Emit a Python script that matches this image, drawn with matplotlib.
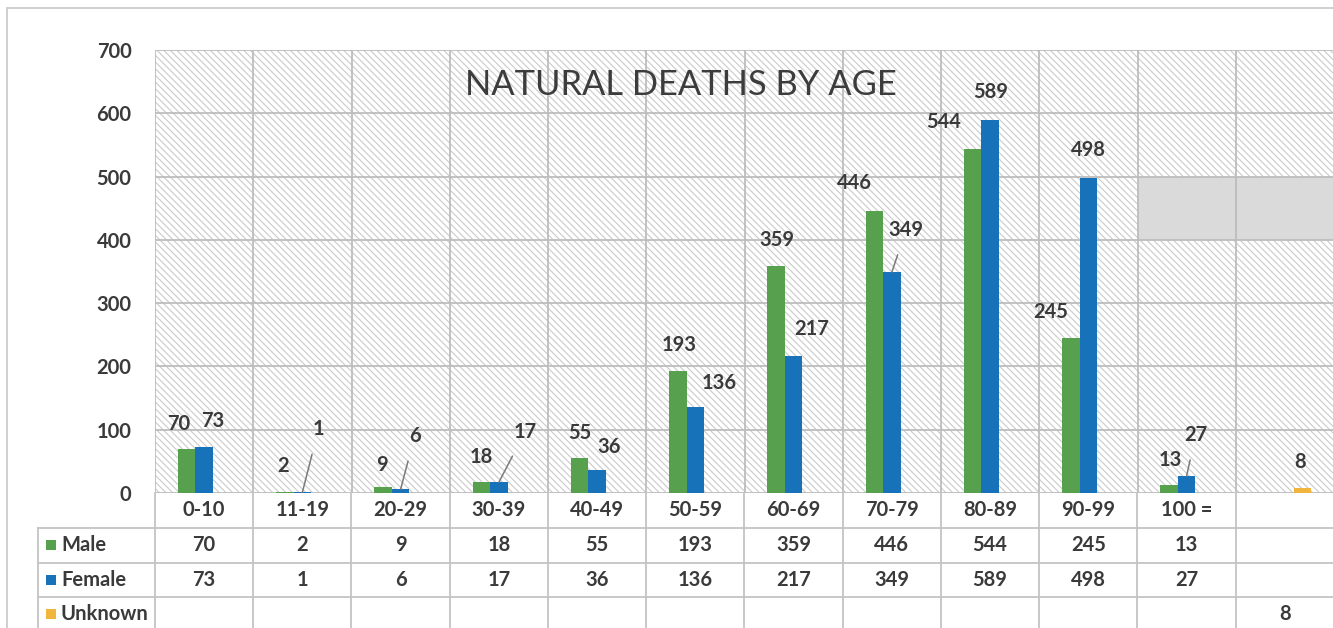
import matplotlib
matplotlib.use("Agg")
import matplotlib.pyplot as plt
from matplotlib.patches import Rectangle
import numpy as np

# data
categories = ['0-10', '11-19', '20-29', '30-39', '40-49', '50-59', '60-69',
              '70-79', '80-89', '90-99', '100 =', '']
male = [70, 2, 9, 18, 55, 193, 359, 446, 544, 245, 13, None]
female = [73, 1, 6, 17, 36, 136, 217, 349, 589, 498, 27, None]
unknown = [None, None, None, None, None, None, None, None, None, None, None, 8]
series_names = ['Male', 'Female', 'Unknown']
colors = ['#56a04e', '#1872ba', '#f1b43c']

# label offsets in pixels (dx, dy) and whether a leader line is drawn
male_off = [(-8, 25), (-2, 26), (-1, 22), (0, 25), (0, 25), (1, 26), (1, 26),
            (-20, 28), (-29, 27), (-20, 26), (1, 25), None]
female_off = [(9, 26), (16, 63), (14, 53), (26, 50), (12, 23), (24, 24), (18, 27),
              (14, 42), (0, 28), (0, 28), (9, 41), None]
female_leader = [False, True, True, True, False, False, False, True, False, False, True, False]
unknown_off = [None] * 11 + [(-2, 26)]

plt.rcParams['font.family'] = ['Lato', 'DejaVu Sans']
plt.rcParams['hatch.color'] = '#cbcbcb'
plt.rcParams['hatch.linewidth'] = 0.8

fig = plt.figure(figsize=(13.33, 6.28), dpi=100)
W, H = 1333, 628

# outer chart border
fig.patches.append(Rectangle((7 / W, -0.1), 1.2, (H - 8) / H + 0.1, transform=fig.transFigure,
                             fill=False, edgecolor='#c8c8c8', lw=1.2))

ax = fig.add_axes([155 / W, (H - 493) / H, 1179 / W, 443 / H])
ax.set_xlim(-0.5, 11.5)
ax.set_ylim(0, 700)

# hatched background
ax.add_patch(Rectangle((0, 0), 1, 1, transform=ax.transAxes, facecolor='white',
                       edgecolor='#cbcbcb', hatch='\\' * 5, lw=0, zorder=0))
# grey block (legend remnant)
ax.add_patch(Rectangle((9.5, 400), 2, 100, facecolor='#dadada', edgecolor='none', zorder=0.5))

for v in range(0, 800, 100):
    ax.axhline(v, color='#bdbdbd', lw=1.3, zorder=1)
for b in np.arange(-0.5, 12, 1):
    ax.axvline(b, color='#bdbdbd', lw=1.3, zorder=1)

x = np.arange(len(categories))
w = 0.178
lab_font = dict(fontsize=14.5, fontweight='bold', color='#3a3a3a')


def draw_series(vals, dx, color, offs, leaders=None):
    for i, v in enumerate(vals):
        if v is None:
            continue
        ax.bar(x[i] + dx, v, width=w, color=color, edgecolor='none', zorder=3)
        ox, oy = offs[i]
        if leaders is not None and leaders[i]:
            ax.annotate(str(v), xy=(x[i] + dx, v), xytext=(ox, oy), textcoords='offset pixels',
                        ha='center', va='center', zorder=5,
                        arrowprops=dict(arrowstyle='-', color='#7a7a7a', lw=1.1,
                                        shrinkA=9, shrinkB=0), **lab_font)
        else:
            ax.annotate(str(v), xy=(x[i] + dx, v), xytext=(ox, oy), textcoords='offset pixels',
                        ha='center', va='center', zorder=5, **lab_font)


draw_series(male, -w, colors[0], male_off)
draw_series(female, 0, colors[1], female_off, female_leader)
draw_series(unknown, w, colors[2], unknown_off)

ax.set_yticks(range(0, 800, 100))
ax.set_yticklabels([str(v) for v in range(0, 800, 100)], **lab_font)
ax.tick_params(axis='y', length=0, pad=17)
ax.set_xticks([])
for s in ax.spines.values():
    s.set_visible(False)

ax.text(0.446, 0.92, 'NATURAL DEATHS BY AGE', transform=ax.transAxes, ha='center', va='center',
        fontsize=24.8, color='#3c3c3c', zorder=6)

# data table
tab = fig.add_axes([38 / W, 0, 1296 / W, 135 / H])
left_x = -0.5 - 117 / 98.25
tab.set_xlim(left_x, 11.5)
tab.set_ylim(628, 493)
tab.axis('off')

gc = '#c4c4c4'
for yy in [528, 563, 597]:
    tab.plot([left_x, 11.5], [yy, yy], color=gc, lw=1.3, clip_on=False)
tab.plot([left_x, left_x], [528, 640], color=gc, lw=1.3, clip_on=False)
for b in np.arange(-0.5, 12, 1):
    tab.plot([b, b], [493, 640], color=gc, lw=1.3, clip_on=False)

row_y = [545, 580, 614]
rows = [male, female, unknown]
for i, c in enumerate(categories):
    tab.text(x[i], 510, c, ha='center', va='center', **lab_font)
for r, vals in enumerate(rows):
    for i, v in enumerate(vals):
        if v is not None:
            tab.text(x[i], row_y[r], str(v), ha='center', va='center', **lab_font)
    kx = left_x + 8 / 98.25
    tab.add_patch(Rectangle((kx, row_y[r] - 5), 10 / 98.25, 10, facecolor=colors[r],
                            edgecolor='none', clip_on=False))
    tab.text(left_x + 23 / 98.25, row_y[r], series_names[r], ha='left', va='center', **lab_font)

fig.savefig('out.png', dpi=100)
